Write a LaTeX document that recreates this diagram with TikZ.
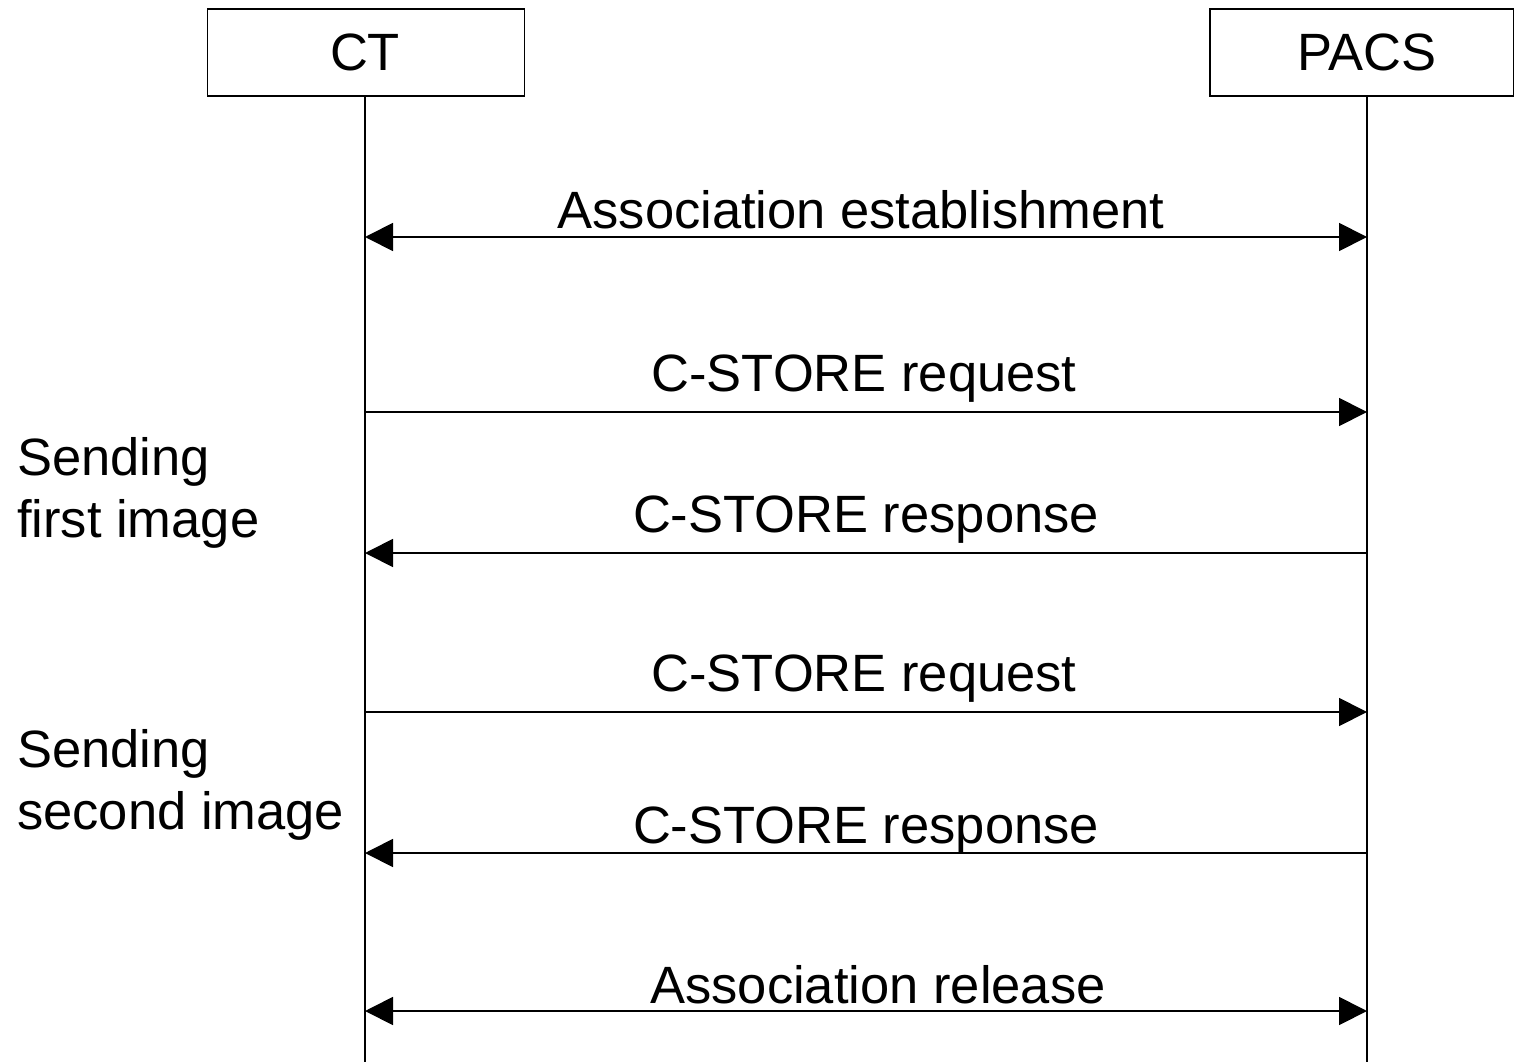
\documentclass[tikz,border=0pt]{standalone}
\usepackage{fontspec}
\setmainfont{Liberation Sans}
\usetikzlibrary{arrows.meta}
\begin{document}
\begin{tikzpicture}[x=1pt,y=-1pt,
  every node/.style={font=\fontsize{52.5}{58}\selectfont, inner sep=0pt},
  party/.style={draw, line width=1.8pt, minimum width=317pt, minimum height=87pt, anchor=north west},
  lifeline/.style={line width=1.8pt},
  msg/.style={line width=1.8pt, arrows={-Triangle[length=28pt,width=28pt]}},
  dmsg/.style={line width=1.8pt, arrows={Triangle[length=28pt,width=28pt]-Triangle[length=28pt,width=28pt]}},
  lbl/.style={anchor=base},
  side/.style={anchor=base west}]
  \useasboundingbox (0,0) rectangle (1514,1062);

  % participants
  \node[party] (ct) at (206.5,8) {};
  \node[anchor=base] (cttext) at (365,71) {CT};
  \node[party, minimum width=304pt] (pacs) at (1209,8) {};
  \node[anchor=base] (pacstext) at (1367,71) {PACS};

  % lifelines
  \coordinate (ctend) at (365,1062);
  \coordinate (pacsend) at (1367,1062);
  \draw[lifeline] (ct.south -| ctend) -- (ctend);
  \draw[lifeline] (pacs.south -| pacsend) -- (pacsend);

  % message anchors on the lifelines
  \foreach \n/\y in {1/237, 2/412, 3/553, 4/712, 5/853, 6/1011} {
    \coordinate (c\n) at (365,\y);
    \coordinate (p\n) at (1367,\y);
  }

  % messages
  \draw[dmsg] (c1) -- (p1);
  \node[lbl] (l1) at (861,228) {Association establishment};
  \draw[msg] (c2) -- (p2);
  \node[lbl] (l2) at (864,391) {C-STORE request};
  \draw[msg] (p3) -- (c3);
  \node[lbl] (l3) at (866,532) {C-STORE response};
  \draw[msg] (c4) -- (p4);
  \node[lbl] (l4) at (864,691) {C-STORE request};
  \draw[msg] (p5) -- (c5);
  \node[lbl] (l5) at (866,843) {C-STORE response};
  \draw[dmsg] (c6) -- (p6);
  \node[lbl] (l6) at (878,1003) {Association release};

  % phase annotations
  \node[side] (s1a) at (17,475) {Sending};
  \node[side] (s1b) at (17,537) {first image};
  \node[side] (s2a) at (17,767) {Sending};
  \node[side] (s2b) at (17,829) {second image};
\end{tikzpicture}
\end{document}
